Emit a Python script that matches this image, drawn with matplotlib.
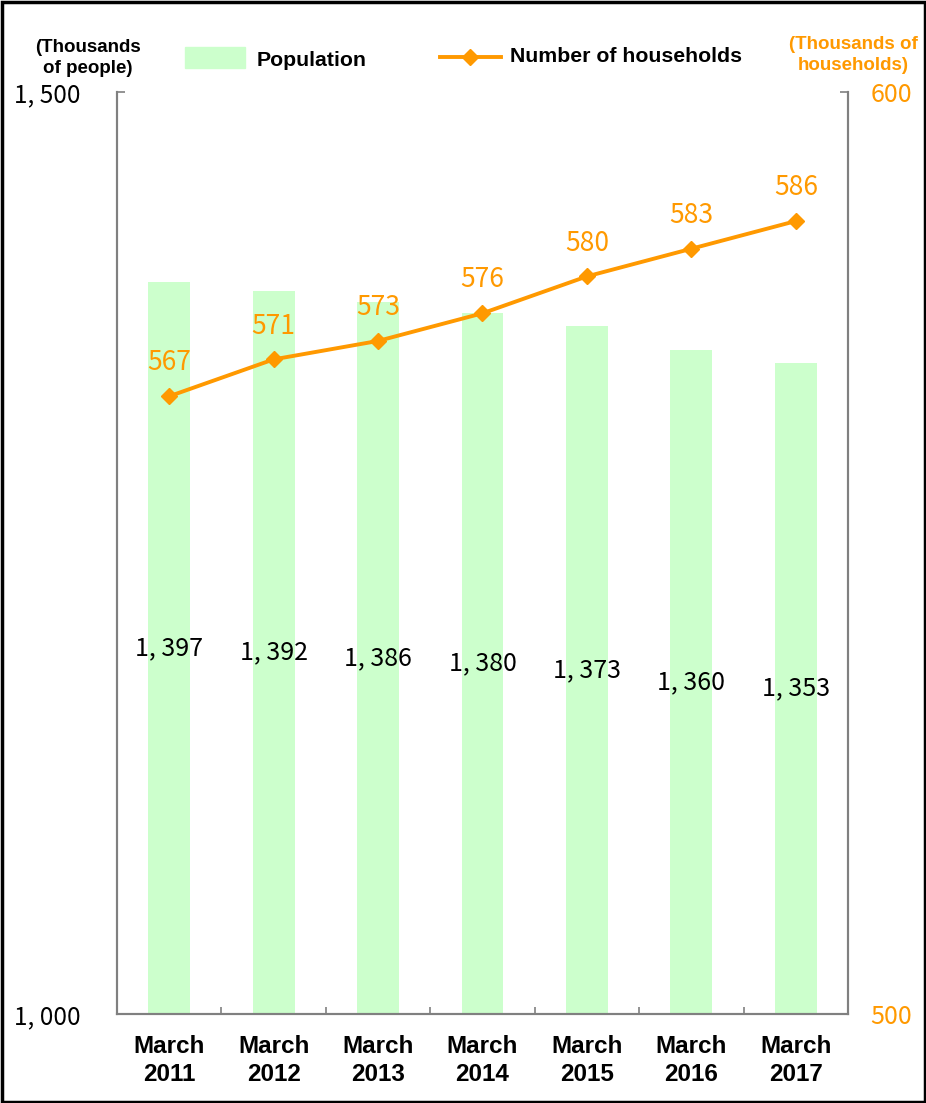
import numpy as np
import matplotlib.pyplot as plt
from matplotlib.patches import Rectangle
from matplotlib.lines import Line2D

# population (thousands of people) and households (thousands) at end of March
years = ['2011', '2012', '2013', '2014', '2015', '2016', '2017']
population = [1397, 1392, 1386, 1380, 1373, 1360, 1353]
households = [567, 571, 573, 576, 580, 583, 586]
pop_range = (1000, 1500)
hh_range = (500, 600)

GREEN = '#CCFFCC'
ORANGE = '#FF9900'
GRAY = '#808080'
NUM_FONT = ['Noto Sans CJK JP', 'DejaVu Sans']
BOLD_FONT = 'Liberation Sans'

W, H = 926, 1103
fig = plt.figure(figsize=(W / 100, H / 100), dpi=100)

def fx(px):
    return px / W

def fy(py):
    return 1 - py / H

ax = fig.add_axes([fx(117), fy(1014), fx(848) - fx(117), fy(92) - fy(1014)])
ax2 = ax.twinx()
ax.set_zorder(ax2.get_zorder() - 1)
ax2.patch.set_visible(False)

x = np.arange(len(years))
ax.bar(x, [p - pop_range[0] for p in population], bottom=pop_range[0],
       width=0.40, color=GREEN, zorder=2)
for xi, p in zip(x, population):
    ax.text(xi, (pop_range[0] + p) / 2, f'{p // 1000}, {p % 1000:03d}',
            ha='center', va='center', fontsize=18, family=NUM_FONT, color='black')

ax2.plot(x, households, color=ORANGE, lw=2.8, marker='D', ms=8, zorder=3)
for xi, h in zip(x, households):
    ax2.annotate(str(h), (xi, h), xytext=(0, 24), textcoords='offset points',
                 ha='center', va='center', fontsize=19, family=NUM_FONT, color=ORANGE)

ax.set_xlim(-0.5, len(years) - 0.5)
ax.set_ylim(*pop_range)
ax2.set_ylim(*hh_range)

ax.set_yticks(list(pop_range))
ax.set_yticklabels(['1, 000', '1, 500'], family=NUM_FONT, fontsize=17.5)
ax2.set_yticks(list(hh_range))
ax2.set_yticklabels([str(v) for v in hh_range], family=NUM_FONT, fontsize=18, color=ORANGE)
ax.tick_params(axis='y', direction='in', length=6, width=1.2, color=GRAY, pad=26)
ax2.tick_params(axis='y', direction='in', length=6, width=1.2, color=GRAY, pad=16)

ax.set_xticks(x)
ax.set_xticklabels([f'March\n{y}' for y in years], fontsize=17.5,
                   fontweight='bold', family=BOLD_FONT)
for lbl in ax.get_xticklabels():
    lbl.set_linespacing(1.3)
ax.set_xticks(np.arange(len(years) + 1) - 0.5, minor=True)
ax.tick_params(axis='x', which='major', length=0, pad=15)
ax.tick_params(axis='x', which='minor', direction='in', length=5, width=1.2, color=GRAY)

for a in (ax, ax2):
    a.spines['top'].set_visible(False)
    for s in ('left', 'right', 'bottom'):
        a.spines[s].set_color(GRAY)
        a.spines[s].set_linewidth(1.5)

# unit captions
fig.text(fx(88), fy(58), '(Thousands\nof people)', ha='center', va='center',
         fontsize=13.5, fontweight='bold', family=BOLD_FONT, linespacing=1.3)
fig.text(fx(853), fy(55), '(Thousands of\nhouseholds)', ha='center', va='center',
         fontsize=13.5, fontweight='bold', family=BOLD_FONT, linespacing=1.3,
         color=ORANGE)

# legend
fig.patches.append(Rectangle((fx(185), fy(68)), fx(60), fy(47) - fy(68),
                             transform=fig.transFigure, color=GREEN))
fig.text(fx(257), fy(60), 'Population', ha='left', va='center', fontsize=15.3,
         fontweight='bold', family=BOLD_FONT)
fig.lines.append(Line2D([fx(440), fx(501)], [fy(57), fy(57)], transform=fig.transFigure,
                        color=ORANGE, lw=2.8))
fig.lines.append(Line2D([fx(470)], [fy(57)], transform=fig.transFigure, color=ORANGE,
                        marker='D', ms=8, lw=0))
fig.text(fx(510), fy(57), 'Number of households', ha='left', va='center', fontsize=15.3,
         fontweight='bold', family=BOLD_FONT)

# outer frame
fig.patches.append(Rectangle((fx(1.5), fy(1101.5)), fx(923), fy(1.5) - fy(1101.5),
                             transform=fig.transFigure, fill=False,
                             edgecolor='black', lw=2.5))

fig.savefig('out.png', dpi=100)
